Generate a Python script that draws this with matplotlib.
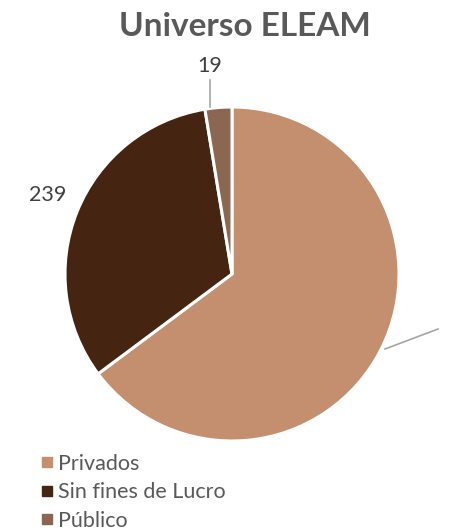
import matplotlib.pyplot as plt
from matplotlib.lines import Line2D

plt.rcParams["font.family"] = ["Lato", "DejaVu Sans"]

categories = ["Privados", "Sin fines de Lucro", "Público"]
values = [475, 239, 19]
colors = ["#C48F6F", "#452412", "#8B6650"]

W, H = 452, 531
fig = plt.figure(figsize=(W / 100, H / 100), dpi=100)

cx, cy, r = 232, 274, 167
ax = fig.add_axes([(cx - r) / W, (H - cy - r) / H, 2 * r / W, 2 * r / H])
wedges, _ = ax.pie(
    values,
    colors=colors,
    startangle=90,
    counterclock=False,
    radius=1,
    wedgeprops={"edgecolor": "white", "linewidth": 2.2},
)
ax.set_xlim(-1, 1)
ax.set_ylim(-1, 1)
ax.set_aspect("equal")
ax.axis("off")


def to_data(px, py):
    return (px - cx) / r, (cy - py) / r


# data labels (Excel-style)
lab_color = "#404040"
x, y = to_data(210, 66)
ax.text(x, y, str(values[2]), ha="center", va="center", fontsize=15.5,
        color=lab_color, clip_on=False)
x0, y0 = to_data(210, 80)
x1, y1 = to_data(210, 107)
ax.plot([x0, x1], [y0, y1], color="#A6A6A6", lw=1.2, clip_on=False)

x, y = to_data(48, 195)
ax.text(x, y, str(values[1]), ha="center", va="center", fontsize=15.5,
        color=lab_color, clip_on=False)

# leader line for the Privados label (label itself falls outside the canvas)
x0, y0 = to_data(385, 349)
x1, y1 = to_data(438, 329)
ax.plot([x0, x1], [y0, y1], color="#A6A6A6", lw=1.2, clip_on=False)

fig.text(245 / W, 1 - 27 / H, "Universo ELEAM", ha="center", va="center",
         fontsize=24, fontweight="bold", color="#595959")

handles = [Line2D([], [], marker="s", linestyle="none", markersize=7,
                  markerfacecolor=c, markeredgecolor=c) for c in colors]
fig.legend(handles, categories, loc="upper left",
           bbox_to_anchor=(32 / W, 1 - 445 / H), frameon=False,
           fontsize=15.5, labelcolor="#595959", handlelength=0.6,
           handletextpad=0.2, labelspacing=0.4, borderaxespad=0)

fig.savefig("out.png", dpi=100)
